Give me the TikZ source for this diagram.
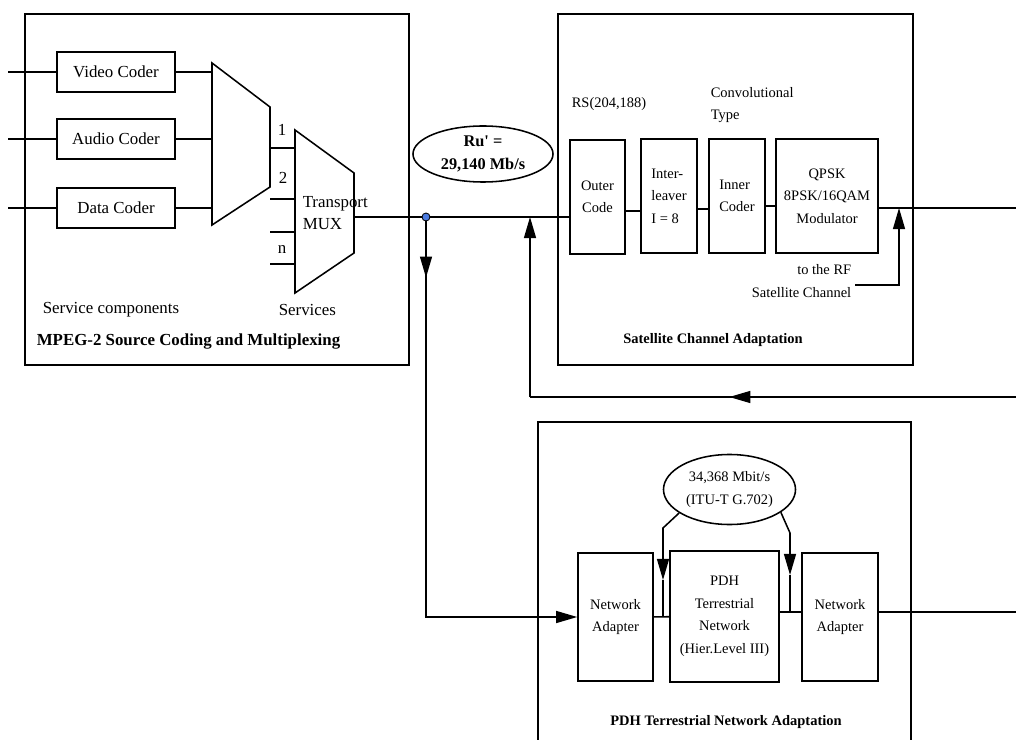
\documentclass[tikz,border=0pt]{standalone}
\usepackage{fontspec}
\setmainfont{Liberation Serif}
\usepackage{tikz}
\usetikzlibrary{
	positioning,
	arrows.meta,
	shapes.geometric,
	decorations.markings
}
\definecolor{dotblue}{RGB}{74,122,224}

\begin{document}
\begin{tikzpicture}[
	x=0.025cm, y=-0.025cm,
	line width=1.1pt,
	>={Triangle[length=15pt,width=8.5pt]},
	big/.style={font=\fontsize{12}{15.6}\selectfont},
	small/.style={font=\fontsize{10.3}{16}\selectfont},
	coder/.style={draw,big,minimum width=2.95cm,minimum height=1cm,inner sep=0pt},
	block/.style={draw,small,align=center,inner sep=0pt},
	rate/.style={draw,ellipse,align=center,inner sep=0pt},
	boxtitle/.style={font=\fontsize{#1}{14}\selectfont\bfseries},
	midarrow/.style={postaction=decorate,decoration={markings,mark=at position #1 with {\arrow{>}}}}
]
	\useasboundingbox (0,0) rectangle (1016,740);

	% containers
	\draw (25,14) rectangle (409,365);
	\draw (558,14) rectangle (913,365);
	\draw (538,740) -- (538,422) -- (911,422) -- (911,740);

	% source coding and multiplexing
	\draw
		node [coder] (video) at (116,72)  {Video Coder}
		node [coder] (audio) at (116,139) {Audio Coder}
		node [coder] (data)  at (116,208) {Data Coder}
	;
	\coordinate (vin) at (8,72);
	\coordinate (ain) at (8,139);
	\coordinate (din) at (8,208);
	\coordinate (sm-tl) at (212,63);
	\coordinate (sm-tr) at (270,107);
	\coordinate (sm-br) at (270,187);
	\coordinate (sm-bl) at (212,225);
	\coordinate (tm-tl) at (295,130);
	\coordinate (tm-tr) at (354,173);
	\coordinate (tm-br) at (354,253);
	\coordinate (tm-bl) at (295,293);
	\coordinate (s1) at (270,148);
	\coordinate (s2) at (270,199);
	\coordinate (s3) at (270,232);
	\coordinate (sn) at (270,264);
	\draw (sm-tl) -- (sm-tr) -- (sm-br) -- (sm-bl) -- cycle;
	\draw (tm-tl) -- (tm-tr) -- (tm-br) -- (tm-bl) -- cycle;
	\draw (vin) -- (video);
	\draw (ain) -- (audio);
	\draw (din) -- (data);
	\draw (video.east) -- (video.east -| sm-tl);
	\draw (audio.east) -- (audio.east -| sm-tl);
	\draw (data.east)  -- (data.east -| sm-tl);
	\draw (s1) -- (s1 -| tm-tl);
	\draw (s2) -- (s2 -| tm-tl);
	\draw (s3) -- (s3 -| tm-tl);
	\draw (sn) -- (sn -| tm-tl);
	\node [big] (p1) at (282,130) {1};
	\node [big] (p2) at (283,178) {2};
	\node [big] (pn) at (282,250) {n};
	\node [big,anchor=west,align=left,inner sep=0pt] (tmuxlbl) at (302,213) {Transport\\MUX};
	\node [big,anchor=west,inner sep=0pt] (svccomp) at (42,310) {Service components};
	\node [big,anchor=west,inner sep=0pt] (svcs) at (278,310) {Services};
	\node [boxtitle=12,anchor=west,inner sep=0pt] (mpegttl) at (36,342) {MPEG-2 Source Coding and Multiplexing};

	% satellite channel adaptation
	\draw
		node [block,minimum width=1.375cm,minimum height=2.85cm]           (outer) at (597.5,197) {Outer\\Code}
		node [block,align=left,minimum width=1.4cm,minimum height=2.85cm] (inter) at (669,196)   {Inter-\\leaver\\I = 8}
		node [block,align=left,minimum width=1.4cm,minimum height=2.85cm] (inner) at (737,196)   {Inner\\Coder}
		node [block,minimum width=2.55cm,minimum height=2.85cm]            (mod)   at (827,196)   {QPSK\\8PSK/16QAM\\Modulator}
	;
	\node [small] (rslbl) at (609,104) {RS(204,188)};
	\node [small,anchor=west,align=left,inner sep=0pt] (convlbl) at (710,105) {Convolutional\\Type};
	\node [small,anchor=east,align=right,inner sep=0pt] (rflbl) at (852,281) {to the RF\\Satellite Channel};
	\node [boxtitle=10.3] (satttl) at (713,340) {Satellite Channel Adaptation};
	\draw ([yshift=-0.35cm]outer.east) -- ([yshift=-0.375cm]inter.west);
	\draw ([yshift=-0.325cm]inter.east) -- ([yshift=-0.325cm]inner.west);
	\draw [line width=2pt] ([yshift=-0.25cm]inner.east) -- ([yshift=-0.25cm]mod.west);
	\coordinate (rfj) at (899,208);
	\coordinate (rfc) at (899,285);
	\coordinate (rfl) at (855,285);
	\coordinate (satout) at (1016,208);
	\draw (mod.east |- satout) -- (satout);
	\draw [->] (rfl) -- (rfc) -- (rfj);

	% transport stream rate
	\node [rate,font=\fontsize{11.6}{16.3}\selectfont\bfseries,minimum width=3.5cm,minimum height=1.4cm] (ru) at (483,154) {Ru\textquotesingle{} =\\29,140 Mb/s};
	\coordinate (tmout) at (354,217);
	\coordinate (split) at (426,217);
	\coordinate (merge) at (530,217);
	\coordinate (fbin) at (1016,397);
	\coordinate (fbc) at (530,397);
	\draw (tmout) -- (split) -- (outer.west |- split);
	\draw [midarrow=0.59] (fbin) -- (fbc);
	\draw [->] (fbc) -- (merge);

	% PDH terrestrial network adaptation
	\draw
		node [block,minimum width=1.875cm,minimum height=3.2cm]  (na1) at (615.5,617) {Network\\Adapter}
		node [block,minimum width=2.725cm,minimum height=3.275cm] (pdh) at (724.5,616.5) {PDH\\Terrestrial\\Network\\(Hier.Level III)}
		node [block,minimum width=1.9cm,minimum height=3.2cm]    (na2) at (840,617) {Network\\Adapter}
	;
	\node [rate,small,minimum width=3.3cm,minimum height=1.75cm] (pdhrate) at (729.5,489.5) {34,368 Mbit/s\\(ITU-T G.702)};
	\node [boxtitle=10.3] (pdhttl) at (726,722) {PDH Terrestrial Network Adaptation};
	\coordinate (lk) at (663,528);
	\coordinate (la) at (663,580);
	\coordinate (rk) at (790,533);
	\coordinate (ra) at (790,575);
	\coordinate (rj) at (790,612);
	\coordinate (pdhout) at (1016,612);
	\draw (na1) -- (pdh);
	\draw (pdh.east |- rj) -- (na2.west |- rj);
	\draw (na2.east |- pdhout) -- (pdhout);
	\draw [->] (pdhrate.205) -- (lk) -- (la);
	\draw (la) -- (la |- na1);
	\draw [->] (pdhrate.336) -- (rk) -- (ra);
	\draw (ra) -- (rj);
	\draw [midarrow=0.11,->] (split) -- (split |- na1) -- (na1);

	\filldraw [fill=dotblue,line width=0.6pt] (split) circle [radius=0.1cm];
\end{tikzpicture}
\end{document}
